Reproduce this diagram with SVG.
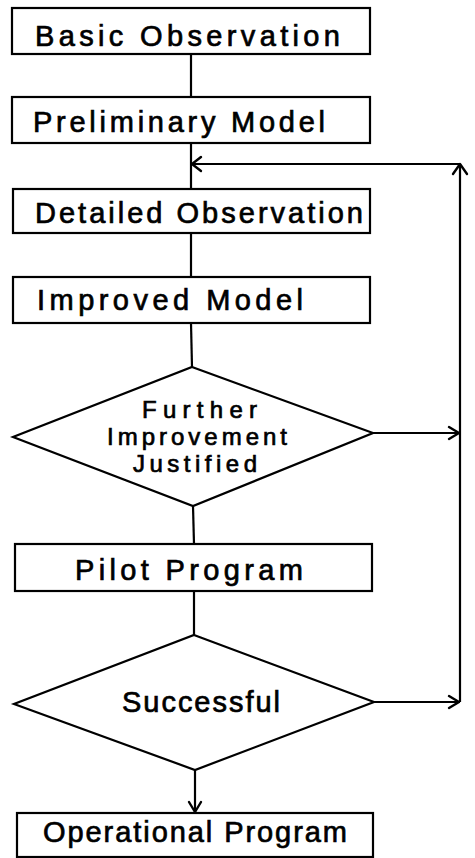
<svg xmlns="http://www.w3.org/2000/svg" width="475" height="858" viewBox="0 0 475 858">
<style>
.box{fill:#fff;stroke:#000;stroke-width:2.2}
.ln{fill:none;stroke:#000;stroke-width:2.2}
.hd{fill:none;stroke:#000;stroke-width:2.4;stroke-linecap:round;stroke-linejoin:round}
text{font-family:"Liberation Sans",Arial,sans-serif;font-size:29px;fill:#000;stroke:#000;stroke-width:0.7}
text.d{font-size:24px}
</style>
<rect width="475" height="858" fill="#fff"/>
<g id="connectors">
<line class="ln" x1="191" y1="54" x2="191" y2="97"/>
<line class="ln" x1="191" y1="143" x2="191" y2="189"/>
<line class="ln" x1="191" y1="164" x2="460" y2="164"/>
<polyline class="hd" points="201,157 192,164 201,171"/>
<line class="ln" x1="460" y1="164" x2="460" y2="702"/>
<polyline class="hd" points="453,174 460,164 467,174"/>
<line class="ln" x1="191" y1="233" x2="191" y2="277"/>
<line class="ln" x1="191" y1="323" x2="192" y2="367"/>
<line class="ln" x1="373" y1="433" x2="460" y2="433"/>
<polyline class="hd" points="449,427 459,433 449,439"/>
<line class="ln" x1="193" y1="506" x2="194" y2="544"/>
<line class="ln" x1="194" y1="591" x2="194" y2="635"/>
<line class="ln" x1="374" y1="702" x2="460" y2="702"/>
<polyline class="hd" points="449,696 459,702 449,708"/>
<line class="ln" x1="195" y1="770" x2="195" y2="812"/>
<polyline class="hd" points="189,802 195,812 201,802"/>
</g>
<g id="basic-observation">
<rect class="box" x="12" y="8" width="358" height="46"/>
<text x="35" y="46" textLength="305" lengthAdjust="spacing">Basic Observation</text>
</g>
<g id="preliminary-model">
<rect class="box" x="12" y="97" width="358" height="46"/>
<text x="33" y="132" textLength="292" lengthAdjust="spacing">Preliminary Model</text>
</g>
<g id="detailed-observation">
<rect class="box" x="13" y="189" width="357" height="44"/>
<text x="35" y="223" textLength="328" lengthAdjust="spacing">Detailed Observation</text>
</g>
<g id="improved-model">
<rect class="box" x="13" y="277" width="357" height="46"/>
<text x="37" y="310" textLength="266" lengthAdjust="spacing">Improved Model</text>
</g>
<g id="further-improvement">
<polygon class="box" points="192,367 373,433 193,506 13,437"/>
<text class="d" x="142" y="418" textLength="115" lengthAdjust="spacing">Further</text>
<text class="d" x="107" y="445" textLength="180" lengthAdjust="spacing">Improvement</text>
<text class="d" x="133" y="472" textLength="124" lengthAdjust="spacing">Justified</text>
</g>
<g id="pilot-program">
<rect class="box" x="15" y="544" width="357" height="47"/>
<text x="75" y="580" textLength="228" lengthAdjust="spacing">Pilot Program</text>
</g>
<g id="successful">
<polygon class="box" points="194,635 374,702 195,770 14,704"/>
<text x="122" y="712" textLength="158" lengthAdjust="spacing">Successful</text>
</g>
<g id="operational-program">
<rect class="box" x="17" y="813" width="356" height="44"/>
<text x="43" y="842" textLength="304" lengthAdjust="spacing">Operational Program</text>
</g>
</svg>
